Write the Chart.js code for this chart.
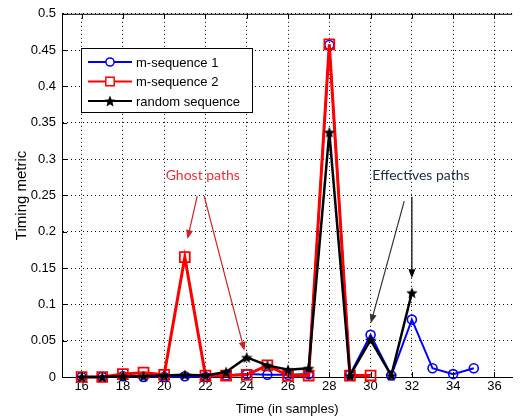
<!DOCTYPE html>
<html>
<head>
<meta charset="utf-8">
<script src="https://cdn.jsdelivr.net/npm/chart.js@4.4.1/dist/chart.umd.min.js"></script>
<style>
  html, body { margin: 0; padding: 0; background: #fff; }
</style>
</head>
<body>
<canvas id="chart" width="521" height="417"></canvas>
<script>
// time index (in samples)
const samples = [16, 17, 18, 19, 20, 21, 22, 23, 24, 25, 26, 27, 28, 29, 30, 31, 32, 33, 34, 35];

// timing metric per sequence
const mSeq1 = [0, 0, 0.001, 0, 0, 0.001, 0, 0.002, 0.004, 0.003, 0.003, 0.004, 0.457, 0.003, 0.058, 0.002, 0.079, 0.012, 0.004, 0.012];
const mSeq2 = [0, 0, 0.004, 0.006, 0.003, 0.165, 0.002, 0.002, 0.003, 0.016, 0.002, 0.002, 0.458, 0.002, 0.002];
const randSeq = [0, 0, 0.001, 0.001, 0.002, 0.003, 0.002, 0.007, 0.027, 0.016, 0.010, 0.012, 0.337, 0.002, 0.051, 0.002, 0.116];

const seriesNames = ["m-sequence 1", "m-sequence 2", "random sequence"];
const xTicks = [16, 18, 20, 22, 24, 26, 28, 30, 32, 34, 36];
const yTicks = [0, 0.05, 0.1, 0.15, 0.2, 0.25, 0.3, 0.35, 0.4, 0.45, 0.5];

// annotation texts
const ghostLabel = "Ghost paths";
const effLabel = "Effectives paths";

function toPoints(vals) {
  return vals.map((v, i) => ({ x: samples[i], y: v }));
}

// filled 5 point star, used as marker image
function starImage(size) {
  const c = document.createElement("canvas");
  c.width = c.height = size;
  const g = c.getContext("2d");
  const cx = size / 2, cy = size / 2 + 0.6, R = size / 2, r = R * 0.45;
  g.beginPath();
  for (let i = 0; i < 10; i++) {
    const a = -Math.PI / 2 + i * Math.PI / 5;
    const rr = i % 2 ? r : R;
    g.lineTo(cx + rr * Math.cos(a), cy + rr * Math.sin(a));
  }
  g.closePath();
  g.fillStyle = "#000";
  g.fill();
  return c;
}
const star = starImage(12);

const tickFont = { family: "'Liberation Sans', Arial, sans-serif", size: 13 };

function arrow(ctx, x1, y1, x2, y2, color) {
  const ang = Math.atan2(y2 - y1, x2 - x1);
  const L = 9, W = 3.5;
  ctx.save();
  ctx.strokeStyle = color;
  ctx.fillStyle = color;
  ctx.lineWidth = 1.2;
  ctx.beginPath();
  ctx.moveTo(x1, y1);
  ctx.lineTo(x2 - L * Math.cos(ang) * 0.8, y2 - L * Math.sin(ang) * 0.8);
  ctx.stroke();
  ctx.beginPath();
  ctx.moveTo(x2, y2);
  ctx.lineTo(x2 - L * Math.cos(ang) + W * Math.sin(ang), y2 - L * Math.sin(ang) - W * Math.cos(ang));
  ctx.lineTo(x2 - L * Math.cos(ang) - W * Math.sin(ang), y2 - L * Math.sin(ang) + W * Math.cos(ang));
  ctx.closePath();
  ctx.fill();
  ctx.restore();
}

const matlabFrame = {
  id: "matlabFrame",
  afterDatasetsDraw(chart) {
    const { ctx, chartArea: a, scales } = chart;
    const xs = scales.x, ys = scales.y;
    ctx.save();
    // top border + inward ticks
    ctx.strokeStyle = "#000";
    ctx.lineWidth = 1;
    ctx.beginPath();
    ctx.moveTo(a.left, a.top + 0.5);
    ctx.lineTo(a.right, a.top + 0.5);
    xTicks.forEach(t => {
      const px = Math.round(xs.getPixelForValue(t)) + 0.5;
      ctx.moveTo(px, a.bottom); ctx.lineTo(px, a.bottom - 5);
      ctx.moveTo(px, a.top); ctx.lineTo(px, a.top + 5);
    });
    yTicks.forEach(t => {
      const py = Math.round(ys.getPixelForValue(t)) + 0.5;
      ctx.moveTo(a.left, py); ctx.lineTo(a.left + 5, py);
    });
    ctx.stroke();

    // annotations
    const X = v => xs.getPixelForValue(v), Y = v => ys.getPixelForValue(v);
    ctx.font = "14px Lato, 'Open Sans', sans-serif";
    ctx.textAlign = "center";
    ctx.textBaseline = "middle";
    ctx.fillStyle = "#e8303a";
    ctx.fillText(ghostLabel, X(21.87), Y(0.277));
    ctx.fillStyle = "#1c2a44";
    ctx.fillText(effLabel, X(32.44), Y(0.277));
    arrow(ctx, X(21.6), Y(0.249), X(21.13), Y(0.190), "#d02020");
    arrow(ctx, X(21.94), Y(0.249), X(23.89), Y(0.036), "#d02020");
    arrow(ctx, X(31.63), Y(0.242), X(30.01), Y(0.074), "#333");
    arrow(ctx, X(32), Y(0.248), X(32), Y(0.136), "#000");

    // legend box
    const bx = 81, by = 48, bw = 171, bh = 64;
    ctx.fillStyle = "#fff";
    ctx.fillRect(bx, by, bw, bh);
    ctx.strokeStyle = "#000";
    ctx.lineWidth = 1;
    ctx.strokeRect(bx + 0.5, by + 0.5, bw, bh);
    ctx.font = "13px 'Liberation Sans', Arial, sans-serif";
    ctx.textAlign = "left";
    chart.data.datasets.forEach((ds, i) => {
      const y = by + 14 + i * 19.5;
      ctx.strokeStyle = ds.borderColor;
      ctx.lineWidth = 2;
      ctx.beginPath();
      ctx.moveTo(bx + 7, y); ctx.lineTo(bx + 51, y);
      ctx.stroke();
      ctx.fillStyle = "#fff";
      ctx.lineWidth = 1.5;
      Chart.helpers.drawPoint(ctx, { pointStyle: ds.pointStyle, radius: ds.pointRadius * (ds.pointStyle === "rect" ? 0.85 : 0.9), borderWidth: 1.5, rotation: 0 }, bx + 29, y);
      ctx.fillStyle = "#000";
      ctx.fillText(ds.label, bx + 55, y + 1);
    });
    ctx.restore();
  }
};

new Chart(document.getElementById("chart"), {
  type: "line",
  data: {
    datasets: [
      {
        label: seriesNames[0],
        data: toPoints(mSeq1),
        borderColor: "#0000ff",
        backgroundColor: "rgba(0,0,0,0)",
        borderWidth: 2,
        pointStyle: "circle",
        pointRadius: 4.5,
        pointBorderWidth: 1.6,
        order: 3
      },
      {
        label: seriesNames[1],
        data: toPoints(mSeq2),
        borderColor: "#ff0000",
        backgroundColor: "rgba(0,0,0,0)",
        borderWidth: 3,
        pointStyle: "rect",
        pointRadius: 7,
        pointBorderWidth: 1.8,
        order: 2
      },
      {
        label: seriesNames[2],
        data: toPoints(randSeq),
        borderColor: "#000000",
        backgroundColor: "#000000",
        borderWidth: 2.5,
        pointStyle: star,
        pointRadius: 5,
        order: 1
      }
    ]
  },
  options: {
    responsive: false,
    animation: false,
    clip: false,
    layout: { padding: { top: 13, right: 0, left: 0, bottom: 0 } },
    plugins: { legend: { display: false }, tooltip: { enabled: false } },
    elements: { line: { tension: 0 } },
    scales: {
      x: {
        type: "linear",
        min: 15.05,
        max: 36.86,
        afterBuildTicks: s => { s.ticks = xTicks.map(v => ({ value: v })); },
        afterFit: s => { s.height = 40; },
        ticks: { color: "#000", font: tickFont, padding: 2, maxRotation: 0 },
        grid: { color: "#000", lineWidth: 1, drawTicks: false },
        border: { color: "#000", width: 1, dash: [1, 3] },
        title: { display: true, text: "Time (in samples)", color: "#000", font: tickFont, padding: { top: 2, bottom: 0 } }
      },
      y: {
        min: 0,
        max: 0.5,
        afterBuildTicks: s => { s.ticks = yTicks.map(v => ({ value: v })); },
        afterFit: s => { s.width = 62; },
        ticks: { color: "#000", font: tickFont, padding: 6, callback: v => String(parseFloat(v.toFixed(2))) },
        grid: { color: "#000", lineWidth: 1, drawTicks: false },
        border: { color: "#000", width: 1, dash: [1, 3] },
        title: { display: true, text: "Timing metric", color: "#000", font: { family: tickFont.family, size: 15 }, padding: { top: 13, bottom: 0 } }
      }
    }
  },
  plugins: [matlabFrame]
});
</script>
</body>
</html>
